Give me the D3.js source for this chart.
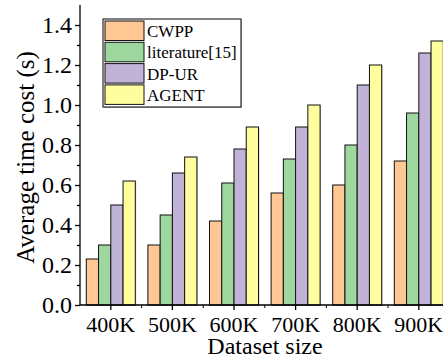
<!DOCTYPE html>
<html><head><meta charset="utf-8">
<script src="https://cdn.jsdelivr.net/npm/d3@7/dist/d3.min.js"></script>
<style>body{margin:0;background:#fff}svg{display:block}</style>
</head><body>
<script>
const categories = ["400K","500K","600K","700K","800K","900K"];
const seriesNames = ["CWPP","literature[15]","DP-UR","AGENT"];
const cwpp = [0.23,0.30,0.42,0.56,0.60,0.72];
const literature = [0.30,0.45,0.61,0.73,0.80,0.96];
const dpur = [0.50,0.66,0.78,0.89,1.10,1.26];
const agent = [0.62,0.74,0.89,1.00,1.20,1.32];
const yTicks = [0.0,0.2,0.4,0.6,0.8,1.0,1.2,1.4];
const yMinorTicks = [0.1,0.3,0.5,0.7,0.9,1.1,1.3];
const colors = ["#FEC794","#9FD89E","#C1B3D7","#FEFE9E"];
const series = [cwpp, literature, dpur, agent];

const W=443,H=360;
const font = "'Liberation Serif','Times New Roman',serif";
const svg = d3.select("body").append("svg").attr("width",W).attr("height",H);

const x = d3.scaleBand().domain(categories).range([80,449.6]).paddingInner(0).paddingOuter(0);
const y = d3.scaleLinear().domain([0,1.5]).range([305,5]);
const xs = d3.scaleBand().domain(d3.range(4)).range([0,49]);

const g = svg.append("g");
categories.forEach((c,i)=>{
  series.forEach((s,j)=>{
    const bx = x(c)+(x.bandwidth()-49)/2+xs(j);
    g.append("rect").attr("x",bx+1).attr("y",y(s[i])+1).attr("width",xs.bandwidth()).attr("height",y(0)-y(s[i]))
      .attr("fill","#999").attr("opacity",0.5);
    g.append("rect").attr("x",bx).attr("y",y(s[i])).attr("width",xs.bandwidth()).attr("height",y(0)-y(s[i]))
      .attr("fill",colors[j]).attr("stroke","#111").attr("stroke-width",1);
  });
});

// Y axis
const yAxis = svg.append("g").attr("transform","translate(80,0)")
  .call(d3.axisLeft(y).tickValues(yTicks).tickFormat(d3.format(".1f")).tickSize(5).tickPadding(3));
svg.append("g").attr("transform","translate(80,0)")
  .call(d3.axisLeft(y).tickValues(yMinorTicks).tickFormat("").tickSize(3))
  .select(".domain").remove();
yAxis.select(".domain").attr("d","M0,305V5");
yAxis.selectAll("text").attr("font-family",font).attr("font-size",24).attr("fill","#000");

// X axis
const xAxis = svg.append("g").attr("transform","translate(0,305)")
  .call(d3.axisBottom(x).tickSize(5).tickPadding(6));
xAxis.select(".domain").attr("d","M80,0H449.6");
xAxis.selectAll("text").attr("font-family",font).attr("font-size",22).attr("fill","#000");
const minorX = categories.slice(1).map(c=>x(c));
svg.append("g").selectAll("line").data(minorX).join("line")
  .attr("x1",d=>d).attr("x2",d=>d).attr("y1",305).attr("y2",308).attr("stroke","#000");
svg.selectAll(".domain, .tick line").attr("stroke","#000").attr("stroke-width",1.3);

// Titles
svg.append("text").attr("x",265).attr("y",354).attr("text-anchor","middle")
  .attr("font-family",font).attr("font-size",24).text("Dataset size");
svg.append("text").attr("transform","translate(33.5,157.5) rotate(-90)").attr("text-anchor","middle")
  .attr("font-family",font).attr("font-size",25).text("Average time cost (s)");

// Legend
const lg = svg.append("g");
lg.append("rect").attr("x",104).attr("y",20).attr("width",138).attr("height",88).attr("fill","#999").attr("opacity",0.6);
lg.append("rect").attr("x",103).attr("y",19).attr("width",138).attr("height",88).attr("fill","#fff").attr("stroke","#000").attr("stroke-width",1);
seriesNames.forEach((n,j)=>{
  const yy = 21 + j*21.3;
  lg.append("rect").attr("x",105).attr("y",yy).attr("width",39).attr("height",19.5)
    .attr("fill",colors[j]).attr("stroke","#111").attr("stroke-width",1);
  lg.append("text").attr("x",147).attr("y",yy+16).attr("font-family",font).attr("font-size",17).text(n);
});
</script>
</body></html>
